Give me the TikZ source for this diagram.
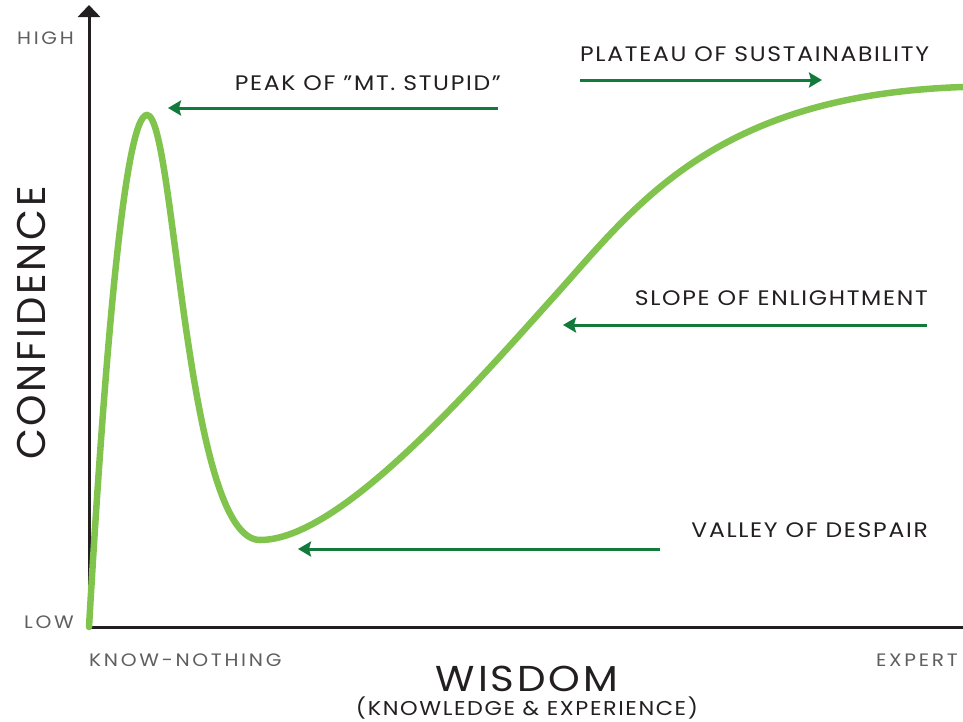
\documentclass[tikz,border=0pt]{standalone}
\usepackage{fontspec}
\setmainfont{Poppins}
\newfontfamily\widefont[FakeStretch=1.12,LetterSpace=8]{Poppins}
\newfontfamily\thinfont[FakeStretch=1.12,LetterSpace=15]{Poppins}
\newfontfamily\tallfont[LetterSpace=7]{Poppins}
\usetikzlibrary{arrows.meta}
\definecolor{curvegreen}{RGB}{128,196,78}
\definecolor{arrowgreen}{RGB}{18,122,58}
\definecolor{labelgray}{RGB}{35,31,32}
\definecolor{lightgray}{RGB}{95,95,95}
\tikzset{
  stage/.style={font=\widefont\fontsize{21}{21}\selectfont,text=labelgray,inner sep=0pt},
  tick/.style={font=\thinfont\fontsize{18}{18}\selectfont,text=lightgray,inner sep=0pt},
  pointer/.style={arrowgreen,line width=3pt,-{Stealth[length=13pt,width=15pt,inset=2pt]}}
}
\begin{document}
\begin{tikzpicture}[x=1pt,y=-1pt]
    \useasboundingbox (0,0) rectangle (963,721);
    % axes
    \coordinate (O) at (89,627);
    \coordinate (ytop) at (89,5);
    \coordinate (xend) at (963,627);
    \draw[labelgray,line width=3pt,-{Triangle[length=12pt,width=22pt]}] (O)--(ytop);
    \draw[labelgray,line width=3pt] (O)--(xend);
    \node[tick,anchor=east] (high) at (74,38) {HIGH};
    \node[tick,anchor=east] (low) at (74,622) {LOW};
    \node[tick,anchor=west] (novice) at (89,660) {KNOW-NOTHING};
    \node[tick,anchor=west] (expert) at (876,660) {EXPERT};
    \node[font=\tallfont\fontsize{40}{40}\selectfont,text=labelgray,rotate=90,inner sep=0pt] (conf) at (32,323) {CONFIDENCE};
    \node[font=\widefont\fontsize{36}{36}\selectfont,text=labelgray,inner sep=0pt] (wisdom) at (527,679) {WISDOM};
    \node[font=\widefont\fontsize{20}{20}\selectfont,text=labelgray,inner sep=0pt] (know) at (527,708) {(KNOWLEDGE \& EXPERIENCE)};
    % the curve
    \draw[curvegreen,line width=6.5pt,line cap=round] (O)
        .. controls (105,350) and (125,115) .. (147,115)
        .. controls (175,115) and (185,540) .. (260,540)
        .. controls (340,540) and (470,390) .. (560,290)
        .. controls (640,200) and (720,95) .. (963,87);
    % stages
    \node[stage,anchor=east] (peak) at (501,83) {PEAK OF ”MT. STUPID”};
    \node[stage,anchor=west] (plateau) at (580,54) {PLATEAU OF SUSTAINABILITY};
    \node[stage,anchor=east] (slope) at (928,298) {SLOPE OF ENLIGHTMENT};
    \node[stage,anchor=east] (valley) at (928,530) {VALLEY OF DESPAIR};
    \coordinate (peak1) at (498,108);  \coordinate (peak2) at (168,108);
    \coordinate (plat1) at (580,80);   \coordinate (plat2) at (822,80);
    \coordinate (slope1) at (927,325); \coordinate (slope2) at (563,325);
    \coordinate (val1) at (660,549);   \coordinate (val2) at (298,549);
    \draw[pointer] (peak1)--(peak2);
    \draw[pointer] (plat1)--(plat2);
    \draw[pointer] (slope1)--(slope2);
    \draw[pointer] (val1)--(val2);
\end{tikzpicture}
\end{document}
